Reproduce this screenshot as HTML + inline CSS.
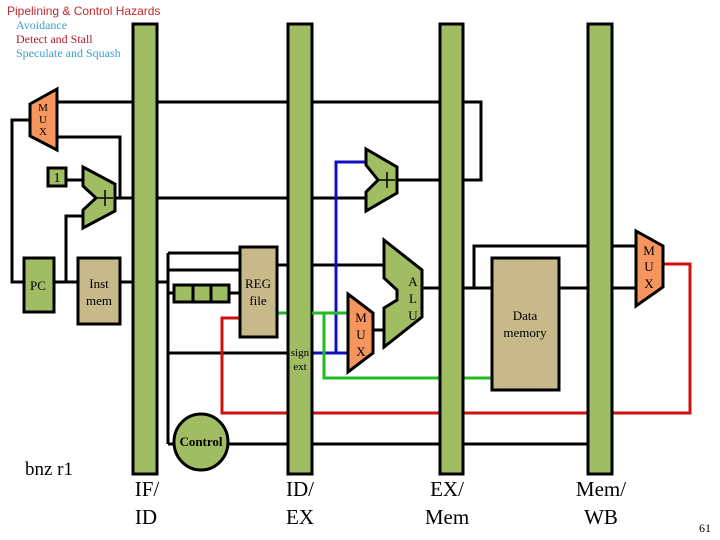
<!DOCTYPE html>
<html><head><meta charset="utf-8"><style>
html,body{margin:0;padding:0;background:#fff;}
svg{display:block;}
svg text{font-family:"Liberation Serif","DejaVu Serif",serif;}
svg text.sans{font-family:"Liberation Sans",sans-serif;}
</style></head><body>
<svg width="720" height="540" xmlns="http://www.w3.org/2000/svg">
<rect width="720" height="540" fill="#fff"/>
<text class="sans" x="7" y="15" font-size="12" fill="#c0282a">Pipelining &amp; Control Hazards</text>
<text x="16" y="29" font-size="12" fill="#3aa0c8">Avoidance</text>
<text x="16" y="43" font-size="12" fill="#b0182a">Detect and Stall</text>
<text x="16" y="57" font-size="12" fill="#3aa0c8">Speculate and Squash</text>

<g stroke="#000" stroke-width="3" fill="none">
<polyline points="57,102 481,102 481,180 463,180"/>
<polyline points="30,120 12,120 12,282 24,282"/>
<polyline points="57,137 120,137 120,198"/>
<line x1="115" y1="198" x2="366" y2="198"/>
<line x1="66" y1="180" x2="83" y2="180"/>
<polyline points="83,216 66,216 66,282"/>
<line x1="54" y1="282" x2="78" y2="282"/>
<line x1="120" y1="282" x2="168" y2="282"/>
<line x1="168" y1="253" x2="168" y2="444"/>
<line x1="168" y1="253" x2="240" y2="253"/>
<line x1="168" y1="270" x2="240" y2="270"/>
<line x1="168" y1="293" x2="240" y2="293"/>
<line x1="168" y1="353" x2="290" y2="353"/>
<line x1="168" y1="444" x2="588" y2="444"/>
<line x1="277" y1="265" x2="383" y2="265"/>
<line x1="397" y1="180" x2="440" y2="180"/>
<line x1="374" y1="330" x2="384" y2="330"/>
<line x1="422" y1="288" x2="492" y2="288"/>
<polyline points="474,288 474,246 636,246"/>
<line x1="559" y1="288" x2="636" y2="288"/>
</g>
<g stroke-width="3" fill="none">
<polyline points="312,353 348,353" stroke="#1010c0"/>
<polyline points="336,353 336,162 366,162" stroke="#1010c0"/>
<line x1="277" y1="313" x2="348" y2="313" stroke="#22bb22"/>
<polyline points="324,313 324,378 492,378" stroke="#22bb22"/>
<polyline points="240,318 222,318 222,413 690,413 690,264 663,264" stroke="#cc1111"/>
</g>

<g fill="#a0bd64" stroke="#000" stroke-width="3">
<rect x="133" y="24" width="24" height="450"/>
<rect x="288" y="24" width="24" height="450"/>
<rect x="440" y="24" width="23" height="450"/>
<rect x="588" y="24" width="24" height="450"/>
</g>
<g stroke="#000" stroke-width="3">
<line x1="312" y1="313" x2="324" y2="313" stroke="#22bb22"/>
</g>

<g stroke="#000" stroke-width="3">
<polygon points="30,104 57,89 57,150 30,136" fill="#f7955f"/>
<rect x="48" y="168" width="18" height="18" fill="#a0bd64"/>
<polygon points="83,167 115,184 115,211 83,228 83,210 96,198 83,186" fill="#a0bd64"/>
<rect x="24" y="258" width="30" height="54" fill="#a0bd64"/>
<rect x="78" y="258" width="42" height="66" fill="#c8b98a"/>
<rect x="174" y="285" width="55" height="17" fill="#a0bd64"/>
<line x1="193" y1="285" x2="193" y2="302"/>
<line x1="211" y1="285" x2="211" y2="302"/>
<rect x="240" y="247" width="37" height="90" fill="#c8b98a"/>
<polygon points="366,149 397,167 397,193 366,211 366,192 378,180 366,165" fill="#a0bd64"/>
<polygon points="348,294 373,313 373,353 348,372" fill="#f7955f"/>
<polygon points="384,240 422,270 422,317 384,347 384,308 397,300 397,290 384,278" fill="#a0bd64"/>
<rect x="492" y="258" width="67" height="132" fill="#c8b98a"/>
<polygon points="636,231 663,246 663,287 636,306" fill="#f7955f"/>
<ellipse cx="201" cy="442" rx="27" ry="28" fill="#a0bd64"/>
</g>
<g stroke="#000" stroke-width="1.5">
<line x1="105" y1="190" x2="105" y2="206"/><line x1="97" y1="198" x2="113" y2="198"/>
<line x1="387" y1="172" x2="387" y2="188"/><line x1="379" y1="180" x2="395" y2="180"/>
</g>

<g text-anchor="middle" fill="#000">
<text x="43" y="111" font-size="11">M</text><text x="43" y="123" font-size="11">U</text><text x="43" y="135" font-size="11">X</text>
<text x="57" y="182" font-size="14">1</text>
<text x="38" y="290" font-size="13">PC</text>
<text x="99" y="288" font-size="13">Inst</text><text x="99" y="305" font-size="13">mem</text>
<text x="258" y="288" font-size="13">REG</text><text x="258" y="305" font-size="13">file</text>
<text x="300" y="356" font-size="11">sign</text><text x="300" y="370" font-size="11">ext</text>
<text x="361" y="322" font-size="13">M</text><text x="361" y="339" font-size="13">U</text><text x="361" y="356" font-size="13">X</text>
<text x="413" y="286" font-size="13">A</text><text x="413" y="303" font-size="13">L</text><text x="413" y="320" font-size="13">U</text>
<text x="525" y="320" font-size="13">Data</text><text x="525" y="337" font-size="13">memory</text>
<text x="649" y="255" font-size="13">M</text><text x="649" y="271" font-size="13">U</text><text x="649" y="288" font-size="13">X</text>
<text x="201" y="446" font-size="13" font-weight="bold">Control</text>
</g>
<text x="25" y="475" font-size="19" fill="#000">bnz r1</text>
<g font-size="21" fill="#000" text-anchor="middle">
<text x="147" y="496">IF/</text><text x="146" y="524">ID</text>
<text x="300" y="496">ID/</text><text x="300" y="524">EX</text>
<text x="447" y="496">EX/</text><text x="447" y="524">Mem</text>
<text x="601" y="496">Mem/</text><text x="601" y="524">WB</text>
</g>
<text x="705" y="532" font-size="12" text-anchor="middle" fill="#000">61</text>
</svg>
</body></html>
